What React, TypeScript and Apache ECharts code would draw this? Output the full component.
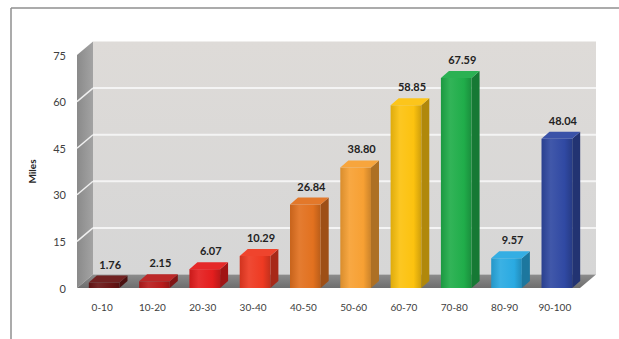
import React, { useEffect, useRef } from "react";
import * as echarts from "echarts";

const categories = ["0-10", "10-20", "20-30", "30-40", "40-50", "50-60", "60-70", "70-80", "80-90", "90-100"];
const values = [1.76, 2.15, 6.07, 10.29, 26.84, 38.8, 58.85, 67.59, 9.57, 48.04];
const barColors = ["#6a1616", "#b81d1d", "#e41e1e", "#ee3a22", "#e2711f", "#f7a033", "#fcc20f", "#20ad4a", "#2aaae2", "#3049a3"];
const yTicks = [0, 15, 30, 45, 60, 75];
const yTitle = "Miles";

function mix(hex: string, target: number, t: number): string {
  const n = parseInt(hex.slice(1), 16);
  const r = (n >> 16) & 255, g = (n >> 8) & 255, b = n & 255;
  const f = (c: number) => Math.round(c + (target - c) * t);
  return "rgb(" + f(r) + "," + f(g) + "," + f(b) + ")";
}

export default function App() {
  const ref = useRef<HTMLDivElement>(null);
  useEffect(() => {
    const chart = echarts.init(ref.current!, null, { renderer: "svg" });
    const WDX = 16, WDY = -13.5;
    const BDX = 8, BDY = -7;
    const font = "Lato, 'Liberation Sans', sans-serif";
    chart.setOption({
      animation: false,
      backgroundColor: "#ffffff",
      graphic: [
        { type: "line", shape: { x1: 11, y1: 8, x2: 619, y2: 8 }, style: { stroke: "#8f8f8f", lineWidth: 1.5 } },
        { type: "line", shape: { x1: 11, y1: 8, x2: 11, y2: 339 }, style: { stroke: "#8f8f8f", lineWidth: 1.5 } },
      ],
      grid: { left: 77, right: 39, top: 55, bottom: 51 },
      xAxis: {
        type: "category",
        data: categories,
        axisLine: { show: false },
        axisTick: { show: false },
        axisLabel: { color: "#404040", fontSize: 10, fontFamily: font, margin: 14 },
      },
      yAxis: {
        type: "value",
        min: 0,
        max: 75,
        interval: 15,
        axisLine: { show: false },
        axisTick: { show: false },
        splitLine: { show: false },
        axisLabel: { color: "#404040", fontSize: 11, fontFamily: font, margin: 11 },
        name: yTitle,
        nameLocation: "middle",
        nameRotate: 90,
        nameGap: 40,
        nameTextStyle: { color: "#262626", fontSize: 10, fontWeight: "bold", fontFamily: font },
      },
      series: [
        {
          type: "custom",
          z: 1,
          clip: false,
          silent: true,
          data: [[0, 0]],
          renderItem: (params: any, api: any) => {
            const cs = params.coordSys;
            const x = cs.x, y = cs.y, w = cs.width, h = cs.height;
            const children: any[] = [];
            children.push({
              type: "rect",
              shape: { x: x + WDX, y: y + WDY, width: w, height: h },
              style: {
                fill: new echarts.graphic.LinearGradient(0, 0, 0, 1, [
                  { offset: 0, color: "#dedbd8" },
                  { offset: 1, color: "#d6d6d6" },
                ]),
              },
            });
            children.push({
              type: "polygon",
              shape: { points: [[x, y + h], [x, y], [x + WDX, y + WDY], [x + WDX, y + h + WDY]] },
              style: {
                fill: new echarts.graphic.LinearGradient(0, 0, 1, 0, [
                  { offset: 0, color: "#8a8a8a" },
                  { offset: 1, color: "#a3a3a3" },
                ]),
              },
            });
            yTicks.forEach((v) => {
              if (v === 0 || v === 75) return;
              const yy = api.coord([0, v])[1];
              children.push({
                type: "line",
                shape: { x1: x + WDX, y1: yy + WDY, x2: x + w + WDX, y2: yy + WDY },
                style: { stroke: "#f4f4f4", lineWidth: 2 },
              });
              children.push({
                type: "line",
                shape: { x1: x, y1: yy, x2: x + WDX, y2: yy + WDY },
                style: { stroke: "#f0f0f0", lineWidth: 1.5 },
              });
            });
            children.push({
              type: "polygon",
              shape: { points: [[x, y + h], [x + w, y + h], [x + w + WDX, y + h + WDY], [x + WDX, y + h + WDY]] },
              style: {
                fill: new echarts.graphic.LinearGradient(0, 0, 0, 1, [
                  { offset: 0, color: "#8c8c8c" },
                  { offset: 1, color: "#6e6e6e" },
                ]),
              },
            });
            return { type: "group", children };
          },
        },
        {
          type: "custom",
          z: 2,
          clip: false,
          data: values.map((v, i) => [i, v]),
          renderItem: (params: any, api: any) => {
            const i = api.value(0);
            const v = api.value(1);
            const top = api.coord([i, v]);
            const base = api.coord([i, 0]);
            const band = api.size([1, 0])[0];
            const bw = band * 0.61;
            const x0 = top[0] - bw / 2 + 2;
            const ty = top[1];
            const by = base[1];
            const c = barColors[i];
            const front = new echarts.graphic.LinearGradient(0, 0, 1, 0, [
              { offset: 0, color: mix(c, 0, 0.12) },
              { offset: 0.3, color: mix(c, 255, 0.08) },
              { offset: 0.75, color: c },
              { offset: 1, color: mix(c, 0, 0.18) },
            ]);
            const children: any[] = [
              {
                type: "polygon",
                shape: { points: [[x0 + bw, ty], [x0 + bw + BDX, ty + BDY], [x0 + bw + BDX, by + BDY], [x0 + bw, by]] },
                style: { fill: mix(c, 0, 0.3) },
              },
              {
                type: "rect",
                shape: { x: x0, y: ty, width: bw, height: by - ty },
                style: { fill: front },
              },
              {
                type: "polygon",
                shape: { points: [[x0, ty], [x0 + BDX, ty + BDY], [x0 + bw + BDX, ty + BDY], [x0 + bw, ty]] },
                style: { fill: mix(c, 255, 0.05) },
              },
              {
                type: "text",
                x: x0 + (bw + BDX) / 2 + 2,
                y: ty + BDY - 6,
                style: {
                  text: v.toFixed(2),
                  fill: "#222222",
                  font: "bold 11px " + font,
                  align: "center",
                  verticalAlign: "bottom",
                },
              },
            ];
            return { type: "group", children };
          },
        },
      ],
    });
    return () => chart.dispose();
  }, []);
  return <div ref={ref} style={{ position: "fixed", left: 0, top: 0, width: 619, height: 339 }} />;
}
